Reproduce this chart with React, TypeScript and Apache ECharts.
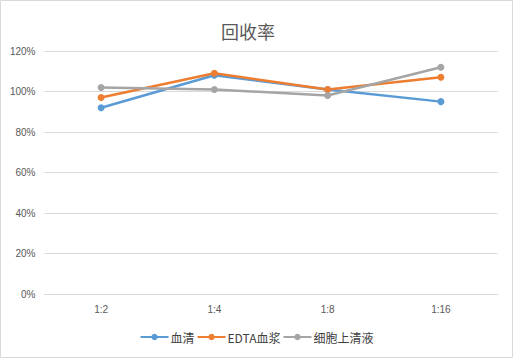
import React, { useEffect, useRef } from "react";
import * as echarts from "echarts";

const categories = ["1:2", "1:4", "1:8", "1:16"];
const seriesNames = ["血清", "EDTA血浆", "细胞上清液"];
const serum = [92, 108, 101, 95];
const edta = [97, 109, 101, 107];
const supernatant = [102, 101, 98, 112];
const colors = ["#5B9BD5", "#ED7D31", "#A5A5A5"];

export default function App() {
  const ref = useRef<HTMLDivElement>(null);
  useEffect(() => {
    document.body.style.margin = "0";
    const chart = echarts.init(ref.current!, undefined, { renderer: "svg" });
    const data = [serum, edta, supernatant];
    chart.setOption({
      animation: false,
      backgroundColor: "#ffffff",
      graphic: [
        {
          type: "rect",
          shape: { x: 0.5, y: 0.5, width: 512, height: 357 },
          style: { fill: "none", stroke: "#d9d9d9", lineWidth: 1 },
          silent: true,
        },
      ],
      title: {
        text: "回收率",
        left: 243,
        top: 17,
        textAlign: "center",
        textStyle: { fontSize: 18, fontWeight: "normal", color: "#595959", fontFamily: "Noto Sans CJK SC" },
      },
      legend: {
        bottom: 10,
        left: "center",
        itemWidth: 28,
        itemHeight: 8,
        itemGap: 2,
        textStyle: { fontSize: 12, color: "#404040", fontFamily: "Noto Sans CJK SC", padding: [0, 0, 0, -3] },
        data: seriesNames,
      },
      grid: { left: 44.5, right: 15.5, top: 51, bottom: 64, containLabel: false },
      xAxis: {
        type: "category",
        data: categories,
        boundaryGap: true,
        axisLine: { lineStyle: { color: "#d9d9d9" } },
        axisTick: { show: false },
        axisLabel: { color: "#595959", fontSize: 10, margin: 10 },
      },
      yAxis: {
        type: "value",
        min: 0,
        max: 120,
        interval: 20,
        axisLine: { show: false },
        axisTick: { show: false },
        splitLine: { lineStyle: { color: "#d9d9d9" } },
        axisLabel: { color: "#595959", fontSize: 10, formatter: "{value}%", margin: 9 },
      },
      series: seriesNames.map((n, i) => ({
        name: n,
        type: "line",
        data: data[i],
        color: colors[i],
        symbol: "circle",
        symbolSize: 7,
        lineStyle: { width: 2.5 },
      })),
    });
    return () => chart.dispose();
  }, []);
  return (
    <div
      ref={ref}
      style={{ position: "absolute", left: 0, top: 0, width: 513, height: 358 }}
    />
  );
}
